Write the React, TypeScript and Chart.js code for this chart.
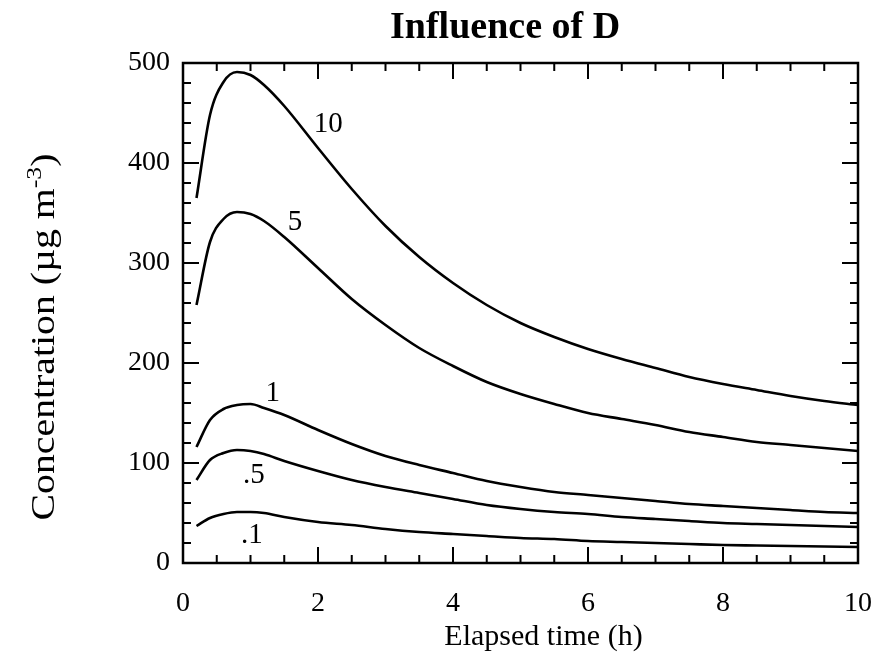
import React, { useEffect, useRef } from "react";
import { Chart, registerables } from "chart.js";

Chart.register(...registerables);

// ---- data ----
const timeH = [0.2, 0.4, 0.6, 0.8, 1.0, 1.2, 1.5, 2, 2.5, 3, 3.5, 4, 4.5, 5, 5.5, 6, 6.5, 7, 7.5, 8, 8.5, 9, 9.5, 10];
const concD10 = [365, 448, 481, 491, 488, 478, 457, 415, 374, 337, 306, 280, 258, 240, 226, 214, 204, 195, 186, 179, 173, 167, 162, 158];
const concD5 = [258, 321, 344, 351, 349, 342, 326, 295, 264, 238, 215, 197, 181, 169, 159, 150, 144, 138, 131, 126, 121, 118, 115, 112];
const concD1 = [116, 143, 154, 158, 159, 155, 148, 133, 119, 107, 98, 90, 82, 76, 71, 68, 65, 62, 59, 57, 55, 53, 51, 50];
const concD05 = [83, 103, 110, 113, 112, 109, 102, 92, 83, 76, 70, 64, 58, 54, 51, 49, 46, 44, 42, 40, 39, 38, 37, 36];
const concD01 = [37, 45, 49, 51, 51, 50, 46, 41, 38, 34, 31, 29, 27, 25, 24, 22, 21, 20, 19, 18, 17.5, 17, 16.5, 16];

const seriesNames = ["10", "5", "1", ".5", ".1"];
const seriesValues = [concD10, concD5, concD1, concD05, concD01];
const labelTimes = [2.15, 1.66, 1.33, 1.05, 1.02];
const labelConcs = [439, 341, 170, 88, 28];

const xTickLabels = ["0", "2", "4", "6", "8", "10"];
const yTickLabels = ["0", "100", "200", "300", "400", "500"];

const titleText = "Influence of D";
const xTitleText = "Elapsed time (h)";
const yTitleMain = "Concentration (µg m";
const yTitleSup = "-3";
const yTitleEnd = ")";

const SERIF = "'Liberation Serif', 'Times New Roman', Times, serif";

const decorPlugin = {
  id: "decor",
  afterDatasetsDraw(chart: any) {
    const { ctx, chartArea, scales } = chart;
    const xs = scales.x;
    const ys = scales.y;
    const { left, right, top, bottom } = chartArea;
    ctx.save();
    ctx.strokeStyle = "#000";
    ctx.fillStyle = "#000";

    // frame
    ctx.lineWidth = 2.5;
    ctx.strokeRect(left, top, right - left, bottom - top);

    // ticks inward on all sides
    ctx.lineWidth = 2;
    ctx.beginPath();
    for (let i = 0; i <= 20; i++) {
      const v = i * 0.5;
      const px = xs.getPixelForValue(v);
      const len = i % 4 === 0 ? 16 : 8;
      ctx.moveTo(px, bottom);
      ctx.lineTo(px, bottom - len);
      ctx.moveTo(px, top);
      ctx.lineTo(px, top + len);
    }
    for (let i = 0; i <= 25; i++) {
      const v = i * 20;
      const py = ys.getPixelForValue(v);
      const len = i % 5 === 0 ? 16 : 8;
      ctx.moveTo(left, py);
      ctx.lineTo(left + len, py);
      ctx.moveTo(right, py);
      ctx.lineTo(right - len, py);
    }
    ctx.stroke();

    // series labels
    ctx.font = `29px ${SERIF}`;
    ctx.textAlign = "center";
    ctx.textBaseline = "middle";
    seriesNames.forEach((name, i) => {
      ctx.fillText(name, xs.getPixelForValue(labelTimes[i]), ys.getPixelForValue(labelConcs[i]));
    });

    // title
    ctx.font = `bold 38px ${SERIF}`;
    ctx.textAlign = "left";
    ctx.textBaseline = "alphabetic";
    ctx.fillText(titleText, left + 207, 30);

    // x title
    ctx.font = `30px ${SERIF}`;
    ctx.textAlign = "center";
    ctx.textBaseline = "middle";
    ctx.fillText(xTitleText, (left + right) / 2 + 23, bottom + 74);

    // y title with superscript
    const mainFont = `34px ${SERIF}`;
    const supFont = `22px ${SERIF}`;
    ctx.font = mainFont;
    const w1 = ctx.measureText(yTitleMain).width;
    const w3 = ctx.measureText(yTitleEnd).width;
    ctx.font = supFont;
    const w2 = ctx.measureText(yTitleSup).width;
    const total = w1 + w2 + w3;
    ctx.translate(36, (top + bottom) / 2 + 24);
    ctx.rotate(-Math.PI / 2);
    ctx.scale(1.17, 1);
    ctx.textAlign = "left";
    ctx.textBaseline = "alphabetic";
    const base = 10;
    ctx.font = mainFont;
    ctx.fillText(yTitleMain, -total / 2, base);
    ctx.font = supFont;
    ctx.fillText(yTitleSup, -total / 2 + w1, base - 13);
    ctx.font = mainFont;
    ctx.fillText(yTitleEnd, -total / 2 + w1 + w2, base);
    ctx.restore();
  },
};

export default function App() {
  const canvasRef = useRef<HTMLCanvasElement | null>(null);

  useEffect(() => {
    const canvas = canvasRef.current;
    if (!canvas) return;
    const chart = new Chart(canvas, {
      type: "line",
      data: {
        datasets: seriesValues.map((vals, i) => ({
          label: seriesNames[i],
          data: timeH.map((t, j) => ({ x: t, y: vals[j] })),
          borderColor: "#000",
          backgroundColor: "#000",
          borderWidth: 2.6,
          pointRadius: 0,
          fill: false,
          cubicInterpolationMode: "monotone" as const,
        })),
      },
      options: {
        animation: false,
        responsive: true,
        maintainAspectRatio: false,
        layout: { padding: { left: 0, right: 14, top: 55, bottom: 0 } },
        plugins: {
          legend: { display: false },
          tooltip: { enabled: false },
          title: { display: false },
        },
        scales: {
          x: {
            type: "linear",
            min: 0,
            max: 10,
            grid: { display: false, drawTicks: false },
            border: { display: false },
            ticks: {
              stepSize: 2,
              padding: 24,
              color: "#000",
              font: { family: SERIF, size: 28 },
              callback: (v: any) => {
                const idx = Math.round(Number(v) / 2);
                return xTickLabels[idx] ?? "";
              },
            },
            afterFit: (scale: any) => {
              scale.height = 96;
              scale.paddingLeft = 0;
              scale.paddingRight = 0;
            },
          },
          y: {
            type: "linear",
            min: 0,
            max: 500,
            grid: { display: false, drawTicks: false },
            border: { display: false },
            ticks: {
              stepSize: 100,
              padding: 13,
              color: "#000",
              font: { family: SERIF, size: 28 },
              callback: (v: any) => {
                const idx = Math.round(Number(v) / 100);
                return yTickLabels[idx] ?? "";
              },
            },
            afterFit: (scale: any) => {
              scale.width = 175;
              scale.paddingTop = 0;
              scale.paddingBottom = 0;
            },
          },
        },
      },
      plugins: [decorPlugin],
    });
    return () => chart.destroy();
  }, []);

  return (
    <div style={{ width: 864, height: 651, position: "relative" }}>
      <canvas ref={canvasRef} />
    </div>
  );
}
